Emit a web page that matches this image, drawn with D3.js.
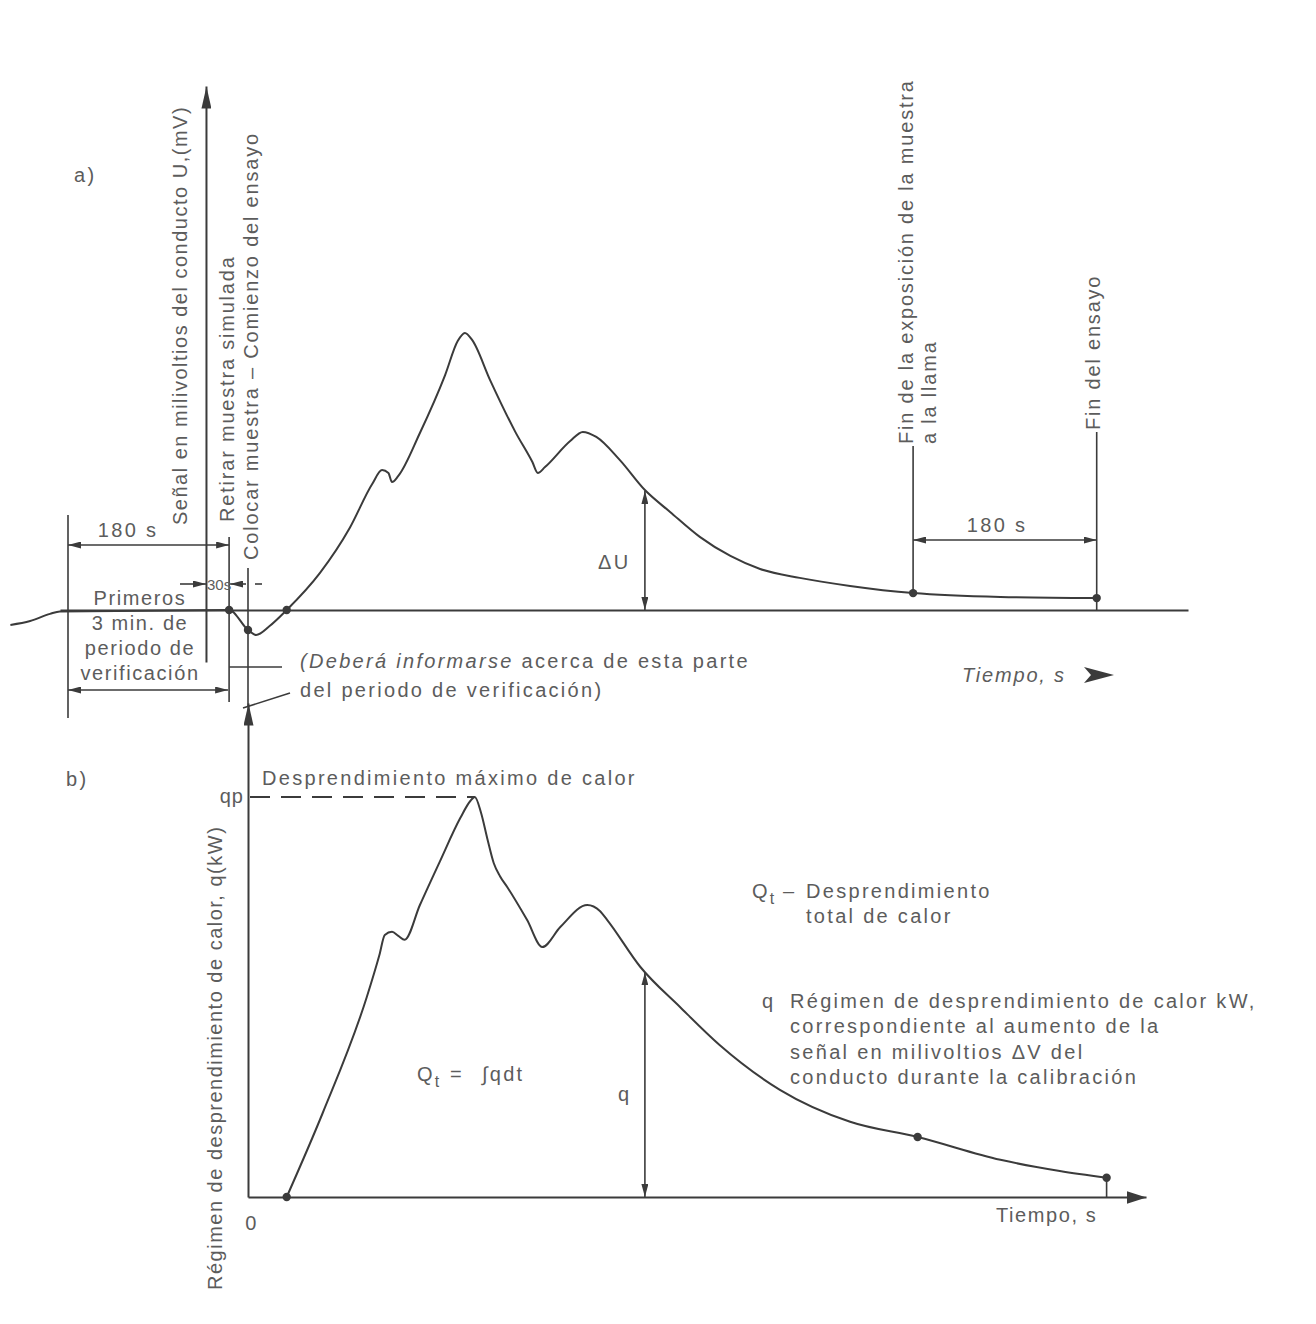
<!DOCTYPE html>
<html>
<head>
<meta charset="utf-8">
<script src="https://cdn.jsdelivr.net/npm/d3@7"></script>
<style>
  body { margin: 0; background: #fff; }
  text { font-family: "Liberation Sans", Arial, sans-serif; font-size: 20px; letter-spacing: 2.3px; fill: #5c5c5c; }
  text.v { letter-spacing: 1.8px; }
</style>
</head>
<body>
<script>

// schematic time units, 0 = start of the test (sample placed)
const signalT = [-26.4, -24.2, -22.0, -20.9, -2.1, 0, 0.9, 2.4, 4.3, 8.0, 11.3, 13.8, 14.9, 15.6, 16.0, 16.7,
  19.1, 21.9, 23.3, 24.1, 24.9, 26.9, 29.7, 31.6, 32.2, 33.0, 35.8, 37.2, 38.7,
  41.3, 44.1, 46.9, 50.2, 53.6, 56.9, 61.3, 66.9, 73.9, 83.6, 94.3]
const signalU = [-5.4, -4.0, -1.4, -0.5, 0, -7.2, -9.0, -5.8, 0, 13.4, 29.6, 45.5, 50.5, 49.5, 46.2, 48.4,
  63.9, 84.8, 97.1, 100, 97.5, 83.0, 64.3, 53.4, 49.5, 51.6, 61.0, 64.3, 62.5,
  54.2, 43.3, 35.4, 26.4, 19.5, 14.8, 11.6, 8.7, 6.1, 4.7, 4.3]
const signalDotT = [-2.1, 0, 4.3, 73.9, 94.3]
const signalDotU = [0, -7.2, 0, 6.1, 4.3]

const heatT = [4.3, 8.3, 13.2, 14.6, 15.2, 16.0, 16.7, 17.4, 19.1, 21.3, 23.6, 24.7, 25.2,
  25.9, 26.6, 27.3, 28.0, 28.8, 31.0, 32.7, 34.7, 37.7, 39.1, 39.9, 43.6, 48.0,
  52.4, 59.1, 66.9, 74.4, 83.6, 90.2, 95.4]
const heatQ = [0, 21, 50, 60.5, 65.5, 66.3, 65.3, 64.3, 73, 83.8, 94.8, 99, 100,
  96, 89.5, 83.5, 80.2, 77.5, 69.3, 62.5, 67.5, 73, 71.5, 69.3, 57.5, 47.5,
  38, 26.8, 18.8, 15, 9.3, 6.5, 4.8]
const heatDotT = [4.3, 74.4, 95.4]
const heatDotQ = [0, 15, 4.8]

// event times
const tCheckStart = -20
const tAxisA = -4.67
const tRetirar = -2.1
const tColocar = 0
const tFinLlama = 73.9
const tFinEnsayo = 94.3
const tMeasure = 44.1
const qPeak = 100

const W = 1316, H = 1324
const ink = '#3b3b3b'

let x = d3.scaleLinear().domain([0, 100]).range([248, 1148])
let yU = d3.scaleLinear().domain([0, 100]).range([610, 333])
let yQ = d3.scaleLinear().domain([0, 100]).range([1197, 797])

let svg = d3.select('body').append('svg')
  .attr('width', W)
  .attr('height', H)

svg.append('rect').attr('width', W).attr('height', H).attr('fill', '#fff')

let defs = svg.append('defs')
function marker(id, len, half) {
  defs.append('marker')
    .attr('id', id)
    .attr('viewBox', `${-len} ${-half} ${len} ${2 * half}`)
    .attr('refX', 0).attr('refY', 0)
    .attr('markerWidth', len).attr('markerHeight', 2 * half)
    .attr('markerUnits', 'userSpaceOnUse')
    .attr('orient', 'auto-start-reverse')
    .append('path')
    .attr('d', `M0,0L${-len},${-half}L${-len},${half}Z`)
    .attr('fill', ink)
}
marker('axisArrow', 22, 5)
marker('xArrow', 20, 6.5)
marker('dimArrow', 13, 3.5)

function line(x1, y1, x2, y2, w, start, end) {
  let l = svg.append('line')
    .attr('x1', x1).attr('y1', y1).attr('x2', x2).attr('y2', y2)
    .attr('stroke', ink).attr('stroke-width', w || 1.6)
  if (start) l.attr('marker-start', `url(#${start})`)
  if (end) l.attr('marker-end', `url(#${end})`)
  return l
}

function label(px, py, str, anchor) {
  return svg.append('text')
    .attr('x', px).attr('y', py)
    .attr('text-anchor', anchor || 'start')
    .text(str)
}

function vlabel(px, py, str) {
  return svg.append('text')
    .attr('class', 'v')
    .attr('transform', `translate(${px},${py}) rotate(-90)`)
    .text(str)
}

function styleAxis(g, arrow) {
  g.select('.domain').attr('stroke', ink).attr('stroke-width', 2)
  if (arrow) g.select('.domain').attr('marker-end', `url(#${arrow})`)
}

// ---------- a) ----------
let axisScaleA = d3.scaleLinear().domain([yU.invert(662), yU.invert(86)]).range([662, 86])
svg.append('g')
  .attr('transform', `translate(${x(tAxisA)},0)`)
  .call(d3.axisLeft(axisScaleA).tickValues([]).tickSizeOuter(0))
  .call(styleAxis, 'axisArrow')

let baseScale = d3.scaleLinear().domain([x.invert(60), x.invert(1188)]).range([60, 1188])
svg.append('g')
  .attr('transform', `translate(0,${yU(0)})`)
  .call(d3.axisBottom(baseScale).tickValues([]).tickSizeOuter(0))
  .call(styleAxis)

let lineA = d3.line().x((d, i) => x(signalT[i])).y(d => yU(d)).curve(d3.curveMonotoneX)
svg.append('path')
  .attr('d', lineA(signalU))
  .attr('fill', 'none').attr('stroke', ink).attr('stroke-width', 2)

svg.selectAll('.dotA')
  .data(signalDotU)
  .enter().append('circle')
  .attr('class', 'dotA')
  .attr('cx', (d, i) => x(signalDotT[i]))
  .attr('cy', d => yU(d))
  .attr('r', 4.2)
  .attr('fill', ink)

label(74, 182, 'a)')

// event verticals
line(x(tCheckStart), 515, x(tCheckStart), 718)
line(x(tRetirar), 537, x(tRetirar), 702)
line(x(tColocar), 568, x(tColocar), 706)
line(x(tFinLlama), 446, x(tFinLlama), yU(6.1))
line(x(tFinEnsayo), 432, x(tFinEnsayo), yU(0))

vlabel(187, 525, 'Señal en milivoltios del conducto U,(mV)').style('letter-spacing', '1.5px')
vlabel(234, 522, 'Retirar muestra simulada')
vlabel(258, 560, 'Colocar muestra – Comienzo del ensayo')
vlabel(x(tFinLlama), 444, 'Fin de la exposición de la muestra')
vlabel(x(tFinLlama) + 23, 444, 'a la llama')
vlabel(x(tFinEnsayo) + 3, 430, 'Fin del ensayo')

// dimensions
line(x(tCheckStart), 545, x(tRetirar), 545, 1.6, 'dimArrow', 'dimArrow')
label(128, 537, '180 s', 'middle')
line(x(tCheckStart), 690, x(tRetirar) - 1, 690, 1.6, 'dimArrow', 'dimArrow')
label(140, 605, 'Primeros', 'middle').style('letter-spacing', '1.6px')
label(140, 630, '3 min. de', 'middle').style('letter-spacing', '1.6px')
label(140, 655, 'periodo de', 'middle').style('letter-spacing', '1.6px')
label(140, 680, 'verificación', 'middle').style('letter-spacing', '1.6px')

line(x(tFinLlama), 540, x(tFinEnsayo), 540, 1.6, 'dimArrow', 'dimArrow')
label(997, 532, '180 s', 'middle')

line(180, 584, x(tAxisA), 584, 1.6, null, 'dimArrow')
line(246, 584, x(tRetirar) + 1, 584, 1.6, null, 'dimArrow')
line(255, 584, 262, 584, 1.6)
svg.append('text')
  .attr('x', 207).attr('y', 590)
  .style('font-family', '"Liberation Sans Narrow", "Liberation Sans", sans-serif')
  .style('font-size', '15px').style('letter-spacing', '0px')
  .text('30s')

// delta U
line(x(tMeasure), yU(43.3) + 1, x(tMeasure), yU(0), 1.6, 'dimArrow', 'dimArrow')
label(598, 569, 'ΔU')

// note
line(x(tRetirar), 667, 282, 667)
line(243, 708, 290, 693)
let note = label(300, 668, '')
note.append('tspan').style('font-style', 'italic').text('(Deberá informarse')
note.append('tspan').text(' acerca de esta parte')
label(300, 697, 'del periodo de verificación)')

label(962, 682, 'Tiempo, s').style('font-style', 'italic').style('letter-spacing', '1.8px')
svg.append('path')
  .attr('d', 'M1084,667L1114,675L1084,683L1091,675Z')
  .attr('fill', ink)

// ---------- b) ----------
let axisScaleBy = d3.scaleLinear().domain([0, yQ.invert(703)]).range([1197, 703])
svg.append('g')
  .attr('transform', `translate(${x(0)},0)`)
  .call(d3.axisLeft(axisScaleBy).tickValues([]).tickSizeOuter(0))
  .call(styleAxis, 'axisArrow')

let axisScaleBx = d3.scaleLinear().domain([0, x.invert(1146)]).range([x(0), 1146])
svg.append('g')
  .attr('transform', `translate(0,${yQ(0)})`)
  .call(d3.axisBottom(axisScaleBx).tickValues([]).tickSizeOuter(0))
  .call(styleAxis, 'xArrow')

let lineB = d3.line().x((d, i) => x(heatT[i])).y(d => yQ(d)).curve(d3.curveMonotoneX)
svg.append('path')
  .attr('d', lineB(heatQ))
  .attr('fill', 'none').attr('stroke', ink).attr('stroke-width', 2)

svg.selectAll('.dotB')
  .data(heatDotQ)
  .enter().append('circle')
  .attr('class', 'dotB')
  .attr('cx', (d, i) => x(heatDotT[i]))
  .attr('cy', d => yQ(d))
  .attr('r', 4.2)
  .attr('fill', ink)

line(x(95.4), yQ(4.8), x(95.4), yQ(0), 1.6)

line(x(0) + 2, yQ(qPeak), x(25.2), yQ(qPeak), 2).attr('stroke-dasharray', '20,11')

label(66, 786, 'b)')
label(244, 803, 'qp', 'end').style('letter-spacing', '1px')
label(262, 785, 'Desprendimiento máximo de calor')
vlabel(222, 1290, 'Régimen de desprendimiento de calor, q(kW)').style('letter-spacing', '1.5px')
label(252, 1230, '0', 'middle')
label(996, 1222, 'Tiempo, s').style('letter-spacing', '1.6px')

// q arrow
line(x(tMeasure), yQ(56.4) + 1, x(tMeasure), yQ(0), 1.6, 'dimArrow', 'dimArrow')
label(618, 1101, 'q')

// formula
let f = label(417, 1081, 'Q')
f.append('tspan').attr('dy', 6).style('font-size', '16px').text('t')
label(450, 1081, '=')
label(482, 1081, '∫qdt')

// legend block
let q1 = label(752, 898, 'Q')
q1.append('tspan').attr('dy', 6).style('font-size', '16px').text('t')
label(783, 898, '–')
label(806, 898, 'Desprendimiento')
label(806, 923, 'total de calor')

label(762, 1008, 'q')
label(790, 1008, 'Régimen de desprendimiento de calor kW,')
label(790, 1033, 'correspondiente al aumento de la')
label(790, 1059, 'señal en milivoltios ΔV del')
label(790, 1084, 'conducto durante la calibración')

</script>
</body>
</html>
